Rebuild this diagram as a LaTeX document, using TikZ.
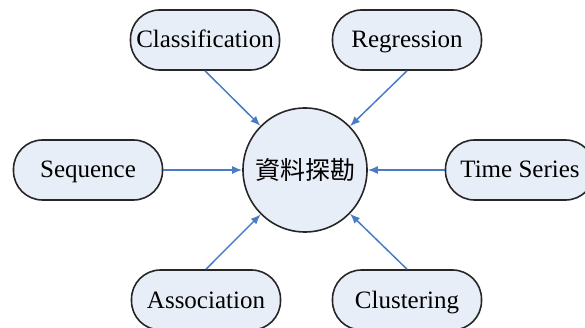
\documentclass[tikz,border=0pt]{standalone}
\usepackage{fontspec}
\setmainfont{Liberation Serif}
\newfontfamily\cjk{Noto Sans CJK TC}
\usepackage{tikz}
\usetikzlibrary{arrows.meta,positioning,backgrounds}

\definecolor{nodefill}{HTML}{E8EEF8}
\definecolor{arrowblue}{HTML}{4A7CC6}
\definecolor{edgegray}{HTML}{262626}

\begin{document}
\begin{tikzpicture}
	[x=1pt,y=-1pt,
	 task/.style={draw=edgegray, line width=1.6pt, fill=nodefill, rectangle, rounded corners=29pt,
	   minimum width=149pt, minimum height=60pt, inner sep=0pt, text height=20pt, text depth=4pt,
	   font=\fontsize{25}{28}\selectfont},
	 core/.style={draw=edgegray, line width=1.6pt, fill=nodefill, circle, minimum size=124pt,
	   inner sep=0pt, font=\cjk\fontsize{25}{28}\selectfont},
	 feed/.style={draw=arrowblue, line width=1.5pt, -{Latex[length=10pt,width=8pt]}}]

	\useasboundingbox (0,0) rectangle (585,328);
	\clip (0,0) rectangle (585,328);

	\node[core] (mine) at (305,170) {資料探勘};

	\node[task] (cls) at (205,40) {Classification};
	\node[task] (reg) at (407,40) {Regression};
	\node[task] (seq) at (88,170) {Sequence};
	\node[task] (ts) at (520,170) {Time Series};
	\node[task] (asc) at (206,300) {Association};
	\node[task] (clu) at (407,300) {Clustering};

	\draw[feed] (cls.south) -- (mine);
	\draw[feed] (reg.south) -- (mine);
	\draw[feed] (seq.east) -- (mine);
	\draw[feed] (ts.west) -- (mine);
	\draw[feed] (asc.north) -- (mine);
	\draw[feed] (clu.north) -- (mine);
\end{tikzpicture}
\end{document}
